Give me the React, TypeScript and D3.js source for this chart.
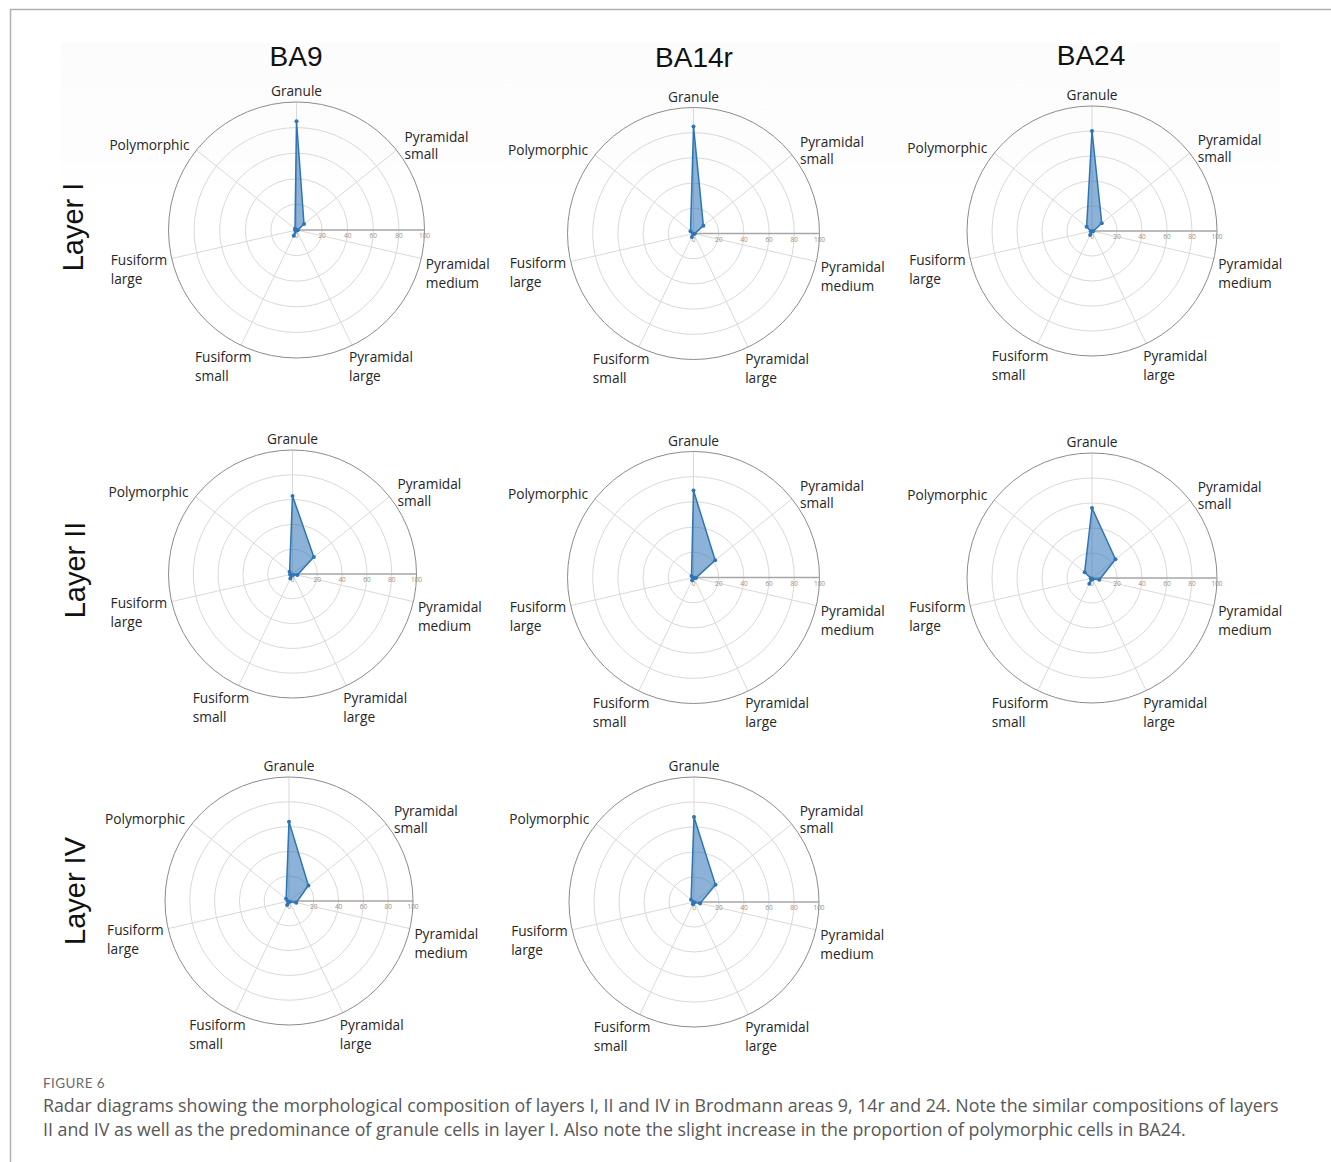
import React from "react";
import * as d3 from "d3";

// ---------- DATA ----------
const axes = [
  "Granule",
  "Pyramidal small",
  "Pyramidal medium",
  "Pyramidal large",
  "Fusiform small",
  "Fusiform large",
  "Polymorphic",
];
const areas = ["BA9", "BA14r", "BA24"];
const layers = ["Layer I", "Layer II", "Layer IV"];
const radialTicks = [0, 20, 40, 60, 80, 100];

// values in axis order (percent)
const BA9_LayerI = [85, 7.5, 1, 0.5, 5, 1, 1.5];
const BA14r_LayerI = [85, 10, 1, 0.5, 3, 0.5, 3];
const BA24_LayerI = [80, 10, 1, 0.5, 3.5, 1, 5.5];
const BA9_LayerII = [63, 22, 4, 1, 4, 2, 3];
const BA14r_LayerII = [69, 22, 2, 0.5, 2.5, 0.5, 2];
const BA24_LayerII = [56, 24, 6, 1, 5, 1, 7.5];
const BA9_LayerIV = [64, 20, 6, 1, 3.5, 1, 3];
const BA14r_LayerIV = [68, 22, 5, 0.5, 2, 0.5, 3];

const captionLabel = "FIGURE 6";
const captionLines = [
  "Radar diagrams showing the morphological composition of layers I, II and IV in Brodmann areas 9, 14r and 24. Note the similar compositions of layers",
  "II and IV as well as the predominance of granule cells in layer I. Also note the slight increase in the proportion of polymorphic cells in BA24.",
];

// ---------- LAYOUT ----------
const panels = [
  { values: BA9_LayerI, cx: 296.5, cy: 230, r: 128 },
  { values: BA14r_LayerI, cx: 693.5, cy: 233.5, r: 126 },
  { values: BA24_LayerI, cx: 1092, cy: 231, r: 125 },
  { values: BA9_LayerII, cx: 292.5, cy: 574, r: 124 },
  { values: BA14r_LayerII, cx: 693.5, cy: 577.5, r: 126 },
  { values: BA24_LayerII, cx: 1092, cy: 578, r: 125 },
  { values: BA9_LayerIV, cx: 289, cy: 901, r: 124 },
  { values: BA14r_LayerIV, cx: 694, cy: 902, r: 125 },
];
const titlePos = [
  { x: 296, y: 66 },
  { x: 694, y: 67 },
  { x: 1091, y: 65 },
];
const layerPos = [
  { x: 83, y: 227 },
  { x: 85, y: 570 },
  { x: 85, y: 891 },
];
// label offsets relative to the axis end point on the outer ring
const labelOffsets = [
  { dx: 0, dy: -6, anchor: "middle", lh: 19 },
  { dx: 8, dy: -8, anchor: "start", lh: 17 },
  { dx: 4.5, dy: 10.5, anchor: "start", lh: 19 },
  { dx: -3, dy: 17, anchor: "start", lh: 19 },
  { dx: -46, dy: 17, anchor: "start", lh: 19 },
  { dx: -61, dy: 6.5, anchor: "start", lh: 19 },
  { dx: -7, dy: 0, anchor: "end", lh: 19 },
];

const BLUE = "#2e75b6";
const LABEL_FONT = "'Open Sans', 'Noto Sans', sans-serif";

function Radar({ values, cx, cy, r }: { values: number[]; cx: number; cy: number; r: number }) {
  const rScale = d3.scaleLinear().domain([0, 100]).range([0, r]);
  const angle = d3
    .scaleLinear()
    .domain([0, axes.length])
    .range([0, 2 * Math.PI]);
  const pt = (i: number, v: number) => {
    const a = angle(i);
    return [rScale(v) * Math.sin(a), -rScale(v) * Math.cos(a)];
  };
  const line = d3
    .lineRadial<number>()
    .angle((_, i) => angle(i))
    .radius((d) => rScale(d))
    .curve(d3.curveLinearClosed);
  const rings = radialTicks.filter((t) => t > 0 && t < 100);
  return (
    <g transform={`translate(${cx},${cy})`}>
      {rings.map((t) => (
        <circle key={t} r={rScale(t)} fill="none" stroke="#d9d9d9" strokeWidth={1} />
      ))}
      {axes.map((_, i) => {
        const [x, y] = pt(i, 100);
        return <line key={i} x1={0} y1={0} x2={x} y2={y} stroke="#d9d9d9" strokeWidth={1} />;
      })}
      <circle r={rScale(100)} fill="none" stroke="#8c8c8c" strokeWidth={1} />
      <line x1={0} y1={0} x2={rScale(100)} y2={0} stroke="#a6a6a6" strokeWidth={1.3} />
      {radialTicks.map((t) => (
        <text
          key={t}
          x={rScale(t)}
          y={8}
          fontSize={6.5}
          fill="#9a8f86"
          textAnchor="middle"
          fontFamily={LABEL_FONT}
        >
          {t}
        </text>
      ))}
      <path d={line(values) || ""} fill={BLUE} fillOpacity={0.55} stroke={BLUE} strokeWidth={1.5} strokeLinejoin="round" />
      {values.map((v, i) => {
        const [x, y] = pt(i, v);
        return <circle key={i} cx={x} cy={y} r={2} fill={BLUE} />;
      })}
      {axes.map((name, i) => {
        const [x, y] = pt(i, 100);
        const o = labelOffsets[i];
        const words = name.split(" ");
        return (
          <text
            key={name}
            x={x + o.dx}
            y={y + o.dy}
            fontSize={13.7}
            fill="#262626"
            textAnchor={o.anchor}
            fontFamily={LABEL_FONT}
          >
            {words.map((w, k) => (
              <tspan key={k} x={x + o.dx} dy={k === 0 ? 0 : o.lh}>
                {w}
              </tspan>
            ))}
          </text>
        );
      })}
    </g>
  );
}

export default function App() {
  const W = 1331;
  const H = 1162;
  return (
    <div style={{ position: "absolute", left: 0, top: 0 }}>
      <svg width={W} height={H} style={{ display: "block", background: "#fff" }}>
        <defs>
          <linearGradient id="band" x1="0" y1="0" x2="0" y2="1">
            <stop offset="0" stopColor="#fcfcfc" />
            <stop offset="0.75" stopColor="#fdfdfd" />
            <stop offset="1" stopColor="#ffffff" />
          </linearGradient>
        </defs>
        <rect x={61} y={43} width={1219} height={150} fill="url(#band)" />
        <line x1={10} y1={9.5} x2={W} y2={9.5} stroke="#b0b0b0" strokeWidth={1.5} />
        <line x1={10.5} y1={9} x2={10.5} y2={H} stroke="#b0b0b0" strokeWidth={1.5} />
        {areas.map((a, i) => (
          <text
            key={a}
            x={titlePos[i].x}
            y={titlePos[i].y}
            fontSize={28}
            textAnchor="middle"
            fill="#111"
            fontFamily="'Liberation Sans', Arial, sans-serif"
          >
            {a}
          </text>
        ))}
        {layers.map((l, i) => (
          <text
            key={l}
            transform={`translate(${layerPos[i].x},${layerPos[i].y}) rotate(-90)`}
            fontSize={29}
            textAnchor="middle"
            fill="#111"
            fontFamily="'Liberation Sans', Arial, sans-serif"
          >
            {l}
          </text>
        ))}
        {panels.map((p, i) => (
          <Radar key={i} values={p.values} cx={p.cx} cy={p.cy} r={p.r} />
        ))}
        <text x={43} y={1088} fontSize={13.5} fill="#6b6b6b" fontFamily="Lato, sans-serif" letterSpacing={0.4}>
          {captionLabel}
        </text>
        {captionLines.map((t, i) => (
          <text key={i} x={43} y={1112 + i * 24} fontSize={17.8} fill="#585858" fontFamily="'Open Sans', sans-serif">
            {t}
          </text>
        ))}
      </svg>
    </div>
  );
}
